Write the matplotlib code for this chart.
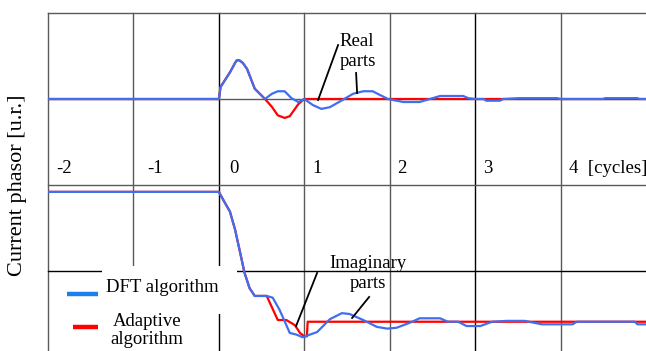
import matplotlib
matplotlib.use('Agg')
import matplotlib.pyplot as plt
from matplotlib.patches import Rectangle

plt.rcParams['font.family'] = ['Liberation Serif', 'DejaVu Serif']

# real parts (offset from the zero line of the upper panel)
real_t = [-2, 0, 0.02, 0.13, 0.19, 0.21, 0.24, 0.28, 0.33, 0.42, 0.54, 0.62, 0.69, 0.77, 0.85, 0.93, 1.0,
          1.1, 1.2, 1.3, 1.45, 1.57, 1.69, 1.8, 1.98, 2.16, 2.35, 2.59, 2.86, 2.92, 3.0,
          3.1, 3.13, 3.29, 3.33, 3.52, 3.96, 4.0, 4.5, 4.52, 4.9, 4.92, 5.0]
real_dft = [0, 0, 0.14, 0.31, 0.42, 0.45, 0.45, 0.42, 0.35, 0.12, 0, 0.06, 0.09, 0.09, 0.01, -0.035, 0,
            -0.07, -0.115, -0.095, -0.01, 0.06, 0.09, 0.09, 0, -0.035, -0.035, 0.035, 0.035, 0.01, 0,
            0, -0.02, -0.02, 0, 0.01, 0.01, 0, 0, 0.01, 0.01, 0, 0]
ad_real_t = [-2, 0, 0.02, 0.13, 0.19, 0.21, 0.24, 0.28, 0.33, 0.42, 0.54, 0.62, 0.69, 0.77, 0.83, 0.93, 1.0, 5.0]
ad_real = [0, 0, 0.14, 0.31, 0.42, 0.45, 0.45, 0.42, 0.35, 0.12, 0, -0.09, -0.19, -0.22, -0.2, -0.06, 0, 0]
real_zero = 1.0

# imaginary parts (axis units)
im_t = [-2, 0, 0.05, 0.13, 0.19, 0.25, 0.30, 0.36, 0.42, 0.56, 0.63, 0.71, 0.83, 0.91, 0.98,
        1.15, 1.30, 1.44, 1.53, 1.69, 1.85, 1.97, 2.08, 2.24, 2.35, 2.59, 2.68, 2.8, 2.9, 3.06,
        3.2, 3.37, 3.58, 3.78, 4.14, 4.19, 4.87, 4.9, 5.0]
im_dft = [-0.08, -0.08, -0.17, -0.31, -0.52, -0.79, -1.02, -1.20, -1.29, -1.29, -1.31, -1.45, -1.72, -1.74, -1.77,
          -1.71, -1.56, -1.49, -1.50, -1.57, -1.65, -1.67, -1.66, -1.60, -1.55, -1.55, -1.59, -1.59, -1.64, -1.64,
          -1.59, -1.58, -1.58, -1.62, -1.62, -1.59, -1.59, -1.62, -1.62]
ad_im_t = [-2, 0, 0.05, 0.13, 0.19, 0.25, 0.30, 0.36, 0.42, 0.56, 0.62, 0.69, 0.79, 0.89, 0.95, 1.0, 1.03, 1.04, 5.0]
ad_im = [-0.08, -0.08, -0.17, -0.31, -0.52, -0.79, -1.02, -1.20, -1.29, -1.29, -1.42, -1.57, -1.57, -1.63, -1.72,
         -1.76, -1.76, -1.59, -1.59]

cycle_labels = ['-2', '-1', '0', '1', '2', '3', '4  [cycles]']
cycle_ticks = [-2, -1, 0, 1, 2, 3, 4]

blue = '#3f6ff0'
red = '#ff0000'
grey = '#5a5a5a'


def px(x, y):
    # pixel position in the picture -> data coordinates
    return (x - 48) / 85.4 - 2, 2 - (y - 13) / 86


fig = plt.figure(figsize=(6.46, 3.51), dpi=100)
ax = fig.add_axes([48 / 646, 0, 598 / 646, 338 / 351])
ax.set_xlim(-2, 5)
ax.set_ylim(2 - 338 / 86, 2)
ax.axis('off')

# grid
for x in [-2, -1, 0, 1, 2, 3, 4]:
    ax.axvline(x, color='black' if x in (0, 3) else grey, lw=1.0, zorder=1, clip_on=False)
for y in [2, 1, 0, -1]:
    ax.axhline(y, color='black' if y == -1 else grey, lw=1.0, zorder=1, clip_on=False)

# white legend area
x0, y0 = px(102, 314)
x1, y1 = px(237, 266)
ax.add_patch(Rectangle((x0, y0), x1 - x0, y1 - y0, color='white', zorder=2, lw=0))
x2, y2 = px(217, 360)
ax.add_patch(Rectangle((x0, y2), x2 - x0, y0 - y2, color='white', zorder=2, lw=0))

# curves
ax.plot(ad_real_t, [real_zero + v for v in ad_real], color=red, lw=1.6, zorder=3)
ax.plot(real_t, [real_zero + v for v in real_dft], color=blue, lw=1.6, zorder=4)
ax.plot(ad_im_t, ad_im, color=red, lw=1.6, zorder=3)
ax.plot(im_t, im_dft, color=blue, lw=1.6, zorder=4)

# cycle labels
label_off = [0.1, 0.16, 0.12, 0.09, 0.09, 0.09, 0.1]
for t, lab, off in zip(cycle_ticks, cycle_labels, label_off):
    ax.text(t + off, 0.19, lab, fontsize=13.5, ha='left', va='center', zorder=5)

# annotations
for (a, b) in [((338, 45), (318, 100)), ((356, 73), (357, 93)),
               ((317, 273), (296, 326)), ((369, 297), (352, 318))]:
    xa, ya = px(*a)
    xb, yb = px(*b)
    ax.plot([xa, xb], [ya, yb], color='black', lw=1.3, zorder=5)
ax.text(*px(357, 41), 'Real', fontsize=13.5, ha='center', va='center', zorder=5)
ax.text(*px(358, 62), 'parts', fontsize=13.5, ha='center', va='center', zorder=5)
ax.text(*px(368, 264), 'Imaginary', fontsize=13.5, ha='center', va='center', zorder=5)
ax.text(*px(368, 283), 'parts', fontsize=13.5, ha='center', va='center', zorder=5)

# legend
xa, ya = px(67, 294)
xb, yb = px(98, 294)
ax.plot([xa, xb], [ya, yb], color='#1a80f0', lw=3.2, zorder=5, solid_capstyle='butt')
xa, ya = px(73, 327)
xb, yb = px(98, 327)
ax.plot([xa, xb], [ya, yb], color=red, lw=3.2, zorder=5, solid_capstyle='butt')
ax.text(*px(106, 288), 'DFT algorithm', fontsize=13.5, ha='left', va='center', zorder=5)
ax.text(*px(147, 321), 'Adaptive', fontsize=13.5, ha='center', va='center', zorder=5)
ax.text(*px(147, 340), 'algorithm', fontsize=13.5, ha='center', va='center', zorder=5)

fig.text(18 / 646, 1 - 185 / 351, 'Current phasor [u.r.]', fontsize=16, rotation=90,
         ha='center', va='center')

fig.savefig('out.png', dpi=100)
